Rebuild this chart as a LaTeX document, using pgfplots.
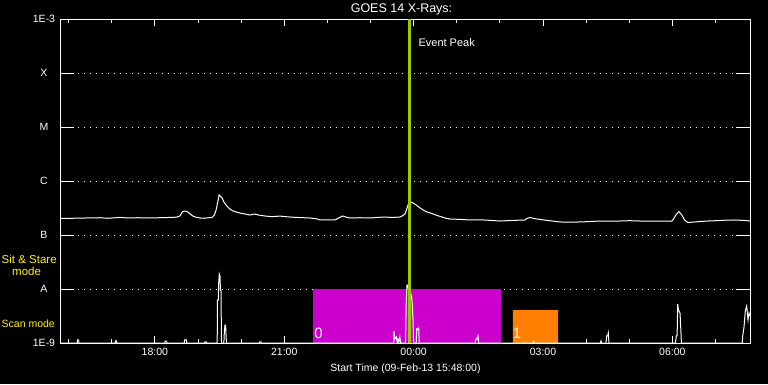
\documentclass[border=0pt]{standalone}
\usepackage{pgfplots}
\pgfplotsset{compat=1.18}
\usepackage{fontspec}
\setmainfont{Liberation Sans}
\definecolor{peak}{RGB}{153,204,0}
\definecolor{scanmag}{RGB}{204,0,204}
\definecolor{scanorg}{RGB}{255,128,0}
\begin{document}
\begin{tikzpicture}[x=1pt,y=1pt]
\fill[black] (0,0) rectangle (768,384);
\useasboundingbox (0,0) rectangle (768,384);
\begin{axis}[
  at={(60pt,41pt)}, anchor=south west,
  scale only axis, width=690pt, height=324pt,
  xmin=0, xmax=16, ymin=-9, ymax=-3,
  axis line style={white, line width=1pt},
  tick align=inside,
  xtick pos=both,
  xtick={2.2,5.2,8.2,11.2,14.2},
  xticklabels={18:00,21:00,00:00,03:00,06:00},
  minor xtick={0.2,1.2,3.2,4.2,6.2,7.2,9.2,10.2,12.2,13.2,15.2},
  major tick length=7pt, minor tick length=4pt,
  xtick style={white, line width=1pt},
  ytick={-9,-8,-7,-6,-5,-4,-3},
  yticklabels={1E-9,A,B,C,M,X,1E-3},
  ytick style={draw=none},
  yticklabel style={anchor=center, xshift=-16pt},
  xticklabel style={yshift=-2pt},
  tick label style={white, font=\fontsize{10.5}{12}\selectfont},
  ymajorgrids,
  grid style={white, line width=1pt, dash pattern=on 1pt off 5pt},
]
% scan mode blocks
\addplot[fill=scanmag, draw=none] coordinates {(5.87,-9) (5.87,-8) (10.23,-8) (10.23,-9) (5.87,-9)};
\addplot[fill=scanorg, draw=none] coordinates {(10.50,-9) (10.50,-8.389) (11.55,-8.389) (11.55,-9) (10.50,-9)};
% GOES flux curve
\addplot[white, line width=1pt] coordinates {
(0,-6.69) (0.3,-6.69) (0.6,-6.685) (0.93,-6.68) (1.1,-6.69) (1.39,-6.675) (1.6,-6.685) (1.8,-6.68)
(2.09,-6.685) (2.3,-6.68) (2.55,-6.675) (2.7,-6.67) (2.78,-6.648) (2.84,-6.57) (2.88,-6.556) (2.94,-6.565)
(2.99,-6.59) (3.08,-6.648) (3.15,-6.67) (3.25,-6.685) (3.35,-6.69) (3.45,-6.68) (3.52,-6.68) (3.58,-6.63)
(3.62,-6.537) (3.66,-6.38) (3.69,-6.259) (3.73,-6.29) (3.76,-6.315) (3.80,-6.39) (3.85,-6.444) (3.90,-6.49)
(3.94,-6.519) (4.0,-6.55) (4.08,-6.574) (4.18,-6.595) (4.29,-6.611) (4.4,-6.63) (4.52,-6.611) (4.6,-6.63)
(4.75,-6.648) (4.9,-6.66) (5.1,-6.65) (5.33,-6.667) (5.5,-6.675) (5.65,-6.68) (5.8,-6.685) (5.95,-6.70)
(6.03,-6.722) (6.2,-6.72) (6.38,-6.722) (6.47,-6.68) (6.56,-6.648) (6.64,-6.67) (6.72,-6.685) (6.95,-6.68)
(7.19,-6.685) (7.35,-6.675) (7.54,-6.667) (7.7,-6.675) (7.88,-6.667) (7.95,-6.64) (8.00,-6.611) (8.04,-6.52)
(8.07,-6.444) (8.12,-6.389) (8.19,-6.407) (8.27,-6.45) (8.35,-6.500) (8.43,-6.54) (8.51,-6.574) (8.58,-6.59)
(8.65,-6.611) (8.75,-6.64) (8.86,-6.667) (8.95,-6.69) (9.04,-6.704) (9.25,-6.71) (9.51,-6.722) (9.8,-6.72)
(10.0,-6.73) (10.20,-6.741) (10.5,-6.73) (10.78,-6.722) (10.84,-6.69) (10.90,-6.676) (10.97,-6.69) (11.06,-6.704)
(11.3,-6.73) (11.59,-6.759) (11.8,-6.76) (12.06,-6.759) (12.3,-6.75) (12.52,-6.741) (12.75,-6.745) (12.99,-6.741)
(13.2,-6.735) (13.45,-6.741) (13.7,-6.745) (13.91,-6.741) (14.1,-6.745) (14.19,-6.741) (14.23,-6.70) (14.28,-6.630)
(14.35,-6.565) (14.42,-6.630) (14.48,-6.72) (14.56,-6.769) (14.7,-6.76) (14.84,-6.750) (15.05,-6.74) (15.30,-6.731)
(15.45,-6.725) (15.65,-6.722) (15.85,-6.73) (16.0,-6.741)
};
% scan-mode signal
\addplot[white, line width=1pt] coordinates {
(0,-9) (0.40,-9) (0.41,-8.944) (0.43,-8.944) (0.44,-9)
(1.28,-9) (1.29,-8.96) (1.31,-8.96) (1.32,-9)
(2.43,-9) (2.44,-8.963) (2.47,-8.963) (2.48,-9)
(2.88,-9) (2.89,-8.944) (2.93,-8.944) (2.94,-9)
(3.35,-9) (3.36,-8.98) (3.39,-8.98) (3.40,-9)
(3.645,-9) (3.652,-8.204) (3.67,-8.204) (3.68,-7.889) (3.694,-7.722) (3.71,-7.759) (3.72,-8.019) (3.733,-8.019) (3.745,-9)
(3.80,-9) (3.81,-8.815) (3.825,-8.667) (3.84,-8.667) (3.85,-8.852) (3.86,-9)
(4.62,-9) (4.63,-8.98) (4.66,-8.98) (4.67,-9)
(7.74,-9) (7.745,-8.778) (7.76,-8.926) (7.80,-8.889) (7.82,-9) (7.835,-8.944) (7.85,-9) (7.88,-8.889) (7.90,-9)
(8.01,-9) (8.016,-8.833) (8.03,-8.204) (8.046,-7.926) (8.06,-7.93) (8.08,-8.0) (8.11,-8.05) (8.132,-8.074) (8.162,-8.204) (8.186,-8.574) (8.20,-9)
(8.26,-9) (8.271,-8.741) (8.29,-8.75) (8.318,-8.722) (8.33,-9)
(9.63,-9) (9.646,-8.926) (9.67,-8.93) (9.693,-8.870) (9.71,-9)
(10.97,-9) (10.984,-8.963) (11.0,-9)
(12.53,-9) (12.545,-8.963) (12.56,-9)
(12.66,-9) (12.677,-8.870) (12.70,-8.87) (12.714,-8.815) (12.73,-9)
(14.27,-9) (14.291,-8.870) (14.31,-8.87) (14.323,-8.278) (14.34,-8.389) (14.377,-8.444) (14.393,-8.704) (14.41,-9)
(15.82,-9) (15.831,-8.870) (15.861,-8.704) (15.891,-8.407) (15.923,-8.315) (15.954,-8.574) (15.977,-8.444) (16,-8.5)
};
% event peak
\addplot[peak, line width=3pt] coordinates {(8.093,-9) (8.093,-3)};
\node[white, anchor=west, font=\fontsize{11}{13}\selectfont] at (axis cs:8.093,-3.44) {\hspace{6pt}Event Peak};
\node[white, font=\fontsize{15}{17}\selectfont] at (axis cs:5.995,-8.82) {0};
\node[white, font=\fontsize{15}{17}\selectfont] at (axis cs:10.60,-8.82) {1};
\end{axis}
% long y ticks on both sides
\foreach \yy in {95,149,203,257,311} {
  \draw[white, line width=1pt] (60,\yy) -- (74,\yy);
  \draw[white, line width=1pt] (736,\yy) -- (750,\yy);
}
\node[white, font=\fontsize{12.5}{14}\selectfont] at (401.5,374.5) {GOES 14 X-Rays:};
\node[white, font=\fontsize{10.5}{12}\selectfont] at (405.5,15) {Start Time (09-Feb-13 15:48:00)};
\node[yellow, anchor=west, inner sep=0pt, font=\fontsize{11.5}{13}\selectfont] at (1.5,125) {Sit \& Stare};
\node[yellow, anchor=west, inner sep=0pt, font=\fontsize{11.5}{13}\selectfont] at (12,113) {mode};
\node[yellow, anchor=west, inner sep=0pt, font=\fontsize{10.5}{12}\selectfont] at (1.5,60) {Scan mode};
\end{tikzpicture}
\end{document}
